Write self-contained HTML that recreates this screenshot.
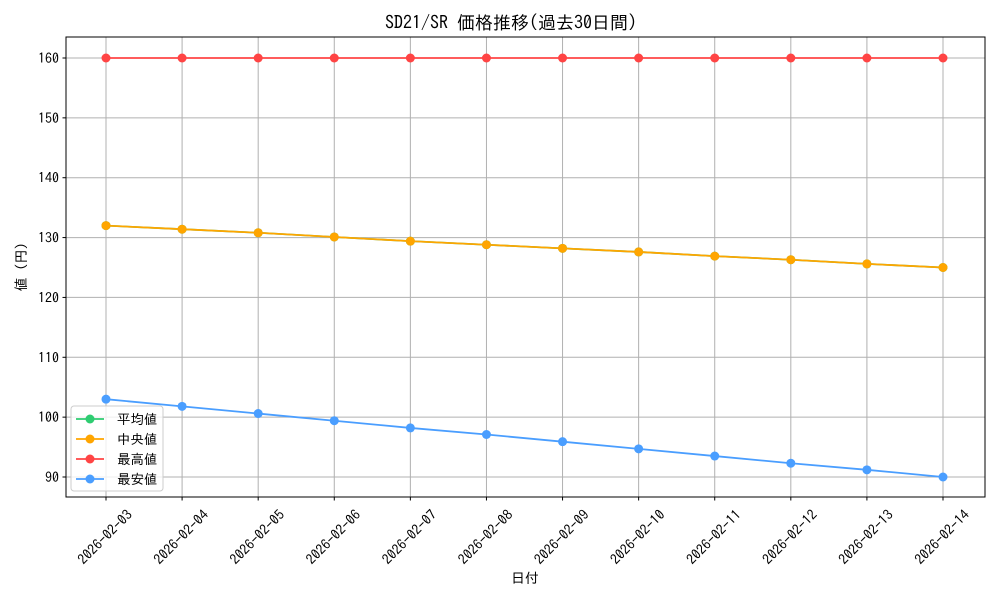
<!DOCTYPE html>
<html><head><meta charset="utf-8"><style>
body{margin:0;background:#fff}
svg{display:block;font-family:"IPAGothic","Liberation Sans","Noto Sans CJK JP",sans-serif}
</style></head><body>
<svg id="chart" width="1000" height="600" viewBox="0 0 1000 600">
<rect width="1000" height="600" fill="#fff"/>
<text x="511" y="29" text-anchor="middle" font-size="18">SD21/SR 価格推移(過去30日間)</text>
<text x="525" y="583" text-anchor="middle" font-size="14">日付</text>
<text transform="translate(26,267) rotate(-90)" text-anchor="middle" font-size="14">値 (円)</text>
<g id="grid"></g><g id="series"></g><g id="axes"></g><g id="legend"></g>
</svg>
<script>
const dates=["2026-02-03","2026-02-04","2026-02-05","2026-02-06","2026-02-07","2026-02-08","2026-02-09","2026-02-10","2026-02-11","2026-02-12","2026-02-13","2026-02-14"];
const avgVals=[132,131.4,130.8,130.1,129.4,128.8,128.2,127.6,126.9,126.3,125.6,125];
const medVals=[132,131.4,130.8,130.1,129.4,128.8,128.2,127.6,126.9,126.3,125.6,125];
const maxVals=[160,160,160,160,160,160,160,160,160,160,160,160];
const minVals=[103,101.8,100.6,99.4,98.2,97.1,95.9,94.7,93.5,92.3,91.2,90];
const yTicks=[90,100,110,120,130,140,150,160];
const seriesNames=["平均値","中央値","最高値","最安値"];
const NS="http://www.w3.org/2000/svg";
const L=66,R=985,T=37,B=497;
const X=i=>106+i*(943-106)/(dates.length-1);
const Y=v=>477-(v-90)*(477-58)/70;
function mk(tag,attrs,parent){const e=document.createElementNS(NS,tag);for(const k in attrs)e.setAttribute(k,attrs[k]);parent.appendChild(e);return e;}
const grid=document.getElementById('grid'),axes=document.getElementById('axes'),ser=document.getElementById('series'),leg=document.getElementById('legend');
dates.forEach((d,i)=>{
 const g=mk('line',{x1:X(i),x2:X(i),y1:T,y2:B,stroke:'#b0b0b0','stroke-width':1},grid);
 
 
 const t=mk('line',{x1:X(i),x2:X(i),y1:B,y2:B+3.5,stroke:'#000'},axes);
 
 
 const tx=mk('text',{x:0,y:0,'font-size':14,'text-anchor':'middle',transform:`translate(${X(i)-1},${537}) rotate(-45)`,dy:'0.35em'},axes);
 tx.textContent=d;
 
 
});
yTicks.forEach(v=>{
 const g=mk('line',{x1:L,x2:R,y1:Y(v),y2:Y(v),stroke:'#b0b0b0','stroke-width':1},grid);
 
 
 const t=mk('line',{x1:L-3.5,x2:L,y1:Y(v),y2:Y(v),stroke:'#000'},axes);
 
 
 const tx=mk('text',{x:L-7,y:Y(v)+5,'font-size':14,'text-anchor':'end'},axes);
 tx.textContent=v;
 
 
});
const frame=mk('rect',{x:L,y:T,width:R-L,height:B-T,fill:'none',stroke:'#000','stroke-width':1},axes);


const all=[[avgVals,'#2ecc71'],[medVals,'#ffa500'],[maxVals,'#ff4444'],[minVals,'#4a9eff']];
all.forEach(([vals,c],k)=>{
 const g=mk('g',{},ser);
 
 
 const p=mk('polyline',{points:vals.map((v,i)=>X(i)+','+Y(v)).join(' '),fill:'none',stroke:c,'stroke-width':1.8},g);
 
 
 vals.forEach((v,i)=>{
  const m=mk('circle',{cx:X(i),cy:Y(v),r:4.5,fill:c},g);
  
  
 });
});
const box=mk('rect',{x:71,y:406,width:92,height:85,rx:3,fill:'#fff','fill-opacity':0.8,stroke:'#ccc'},leg);


seriesNames.forEach((n,k)=>{
 const y=419+k*20,c=all[k][1];
 const g=mk('g',{},leg);
 
 
 mk('line',{x1:76,x2:104,y1:y,y2:y,stroke:c,'stroke-width':1.8},g);
 mk('circle',{cx:90,cy:y,r:4.5,fill:c},g);
 const t=mk('text',{x:117,y:y+5,'font-size':13.5},g);
 t.textContent=n;
});
</script>
</body></html>
